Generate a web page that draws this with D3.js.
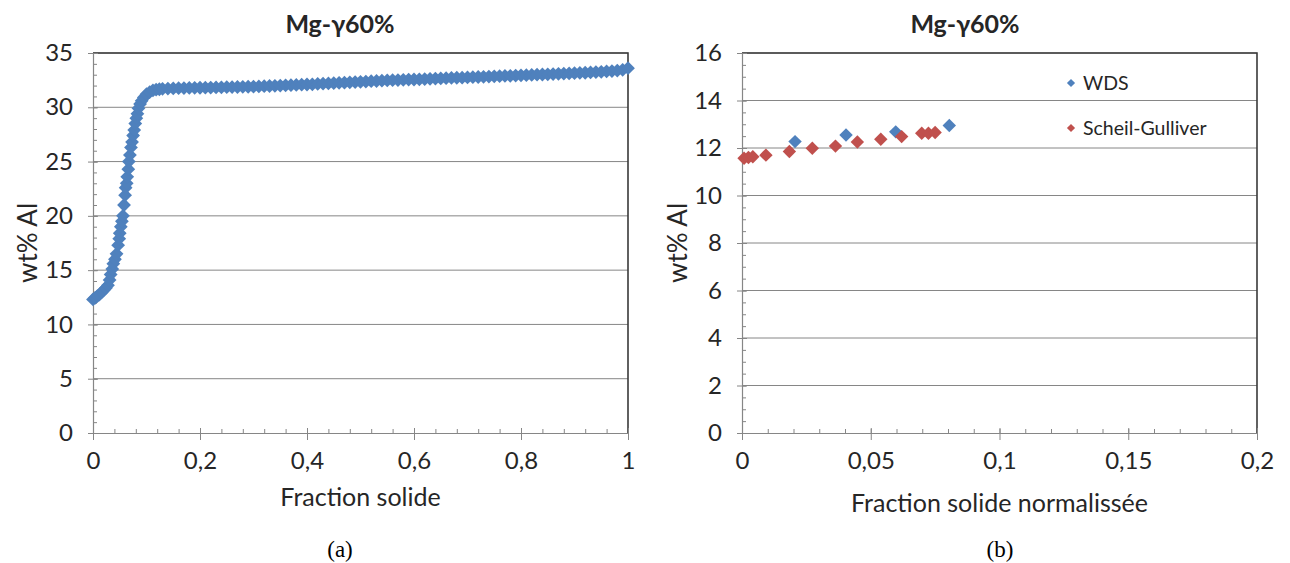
<!DOCTYPE html>
<html><head><meta charset="utf-8">
<script src="https://cdn.jsdelivr.net/npm/d3@7"></script>
<style>body{margin:0;background:#fff}svg{display:block}</style>
</head><body><svg id="c" width="1290" height="563"></svg>
<script>
// ---- Data ----
const fracA = [0,0.004,0.008,0.012,0.016,0.020,0.024,0.028,0.031,0.033,0.036,0.038,0.041,0.044,0.047,0.049,0.050,0.052,0.054,0.056,0.058,0.060,0.061,0.063,0.064,0.066,0.067,0.069,0.071,0.073,0.075,0.077,0.079,0.081,0.083,0.085,0.088,0.091,0.095,0.100,0.106,0.112,0.118,0.124,0.130,
0.14,0.15,0.16,0.17,0.18,0.19,0.20,0.21,0.22,0.23,0.24,0.25,0.26,0.27,0.28,0.29,0.30,0.31,0.32,0.33,0.34,0.35,0.36,0.37,0.38,0.39,0.40,0.41,0.42,0.43,0.44,0.45,0.46,0.47,0.48,0.49,0.50,0.51,0.52,0.53,0.54,0.55,0.56,0.57,0.58,0.59,0.60,0.61,0.62,0.63,0.64,0.65,0.66,0.67,0.68,0.69,0.70,0.71,0.72,0.73,0.74,0.75,0.76,0.77,0.78,0.79,0.80,0.81,0.82,0.83,0.84,0.85,0.86,0.87,0.88,0.89,0.90,0.91,0.92,0.93,0.94,0.95,0.96,0.97,0.98,0.99,1.00];
const alA = [12.3,12.45,12.6,12.75,12.95,13.15,13.35,13.6,14.1,14.6,15.1,15.6,16.0,16.5,17.3,17.9,18.4,19.0,19.5,20.0,21.0,21.9,22.6,23.0,23.6,24.3,25.0,25.6,26.3,26.8,27.4,27.9,28.5,29.0,29.4,29.9,30.3,30.6,30.9,31.2,31.4,31.55,31.62,31.66,31.7,
31.72,31.74,31.76,31.77,31.78,31.79,31.80,31.81,31.82,31.83,31.84,31.85,31.86,31.87,31.88,31.89,31.90,31.92,31.94,31.96,31.98,32.00,32.02,32.04,32.06,32.08,32.10,32.12,32.15,32.17,32.20,32.22,32.25,32.27,32.30,32.32,32.35,32.37,32.40,32.42,32.45,32.47,32.50,32.51,32.53,32.55,32.56,32.58,32.60,32.62,32.64,32.66,32.68,32.70,32.72,32.73,32.75,32.77,32.79,32.81,32.83,32.85,32.87,32.89,32.90,32.92,32.94,32.96,32.98,33.00,33.02,33.04,33.06,33.08,33.10,33.12,33.14,33.16,33.18,33.21,33.24,33.27,33.30,33.34,33.38,33.45,33.60];

const wdsX = [0.0206,0.0404,0.0597,0.0805];
const wdsY = [12.27,12.55,12.68,12.95];
const sgX = [0.0008,0.0025,0.0042,0.0093,0.0184,0.0273,0.0363,0.0448,0.0539,0.0620,0.0698,0.0724,0.0750];
const sgY = [11.57,11.60,11.63,11.70,11.85,11.99,12.08,12.25,12.37,12.48,12.62,12.62,12.65];

const xTicksA = [0,0.2,0.4,0.6,0.8,1];
const yTicksA = [0,5,10,15,20,25,30,35];
const xTicksB = [0,0.05,0.1,0.15,0.2];
const yTicksB = [0,2,4,6,8,10,12,14,16];
const legendNames = ["WDS","Scheil-Gulliver"];
const titleText = "Mg-γ60%";

// ---- Drawing ----
const svg = d3.select("#c");
svg.append("rect").attr("width",1290).attr("height",563).attr("fill","#fff");
const FONT = "Lato, 'Open Sans', sans-serif";
const TXT = "#262626";
const GRID = "#868686";
const BLUE = "#4F81BD", RED = "#C0504D";
const loc = d3.formatLocale({decimal:",",thousands:" ",grouping:[3],currency:["",""]});
const fmt = v => loc.format("~g")(v);

function chart(o){
  const g = svg.append("g");
  const x = d3.scaleLinear().domain(o.xDomain).range([o.x0,o.x1]);
  const y = d3.scaleLinear().domain(o.yDomain).range([o.yb,o.yt]);
  g.append("g").selectAll("line").data(o.yTicks.filter(v=>v>o.yDomain[0])).join("line")
    .attr("x1",o.x0).attr("x2",o.x1).attr("y1",d=>y(d)).attr("y2",d=>y(d))
    .attr("stroke",GRID).attr("stroke-width",1);
  g.append("path").attr("d",`M${o.x0},${o.yt}H${o.x1}V${o.yb}`).attr("fill","none")
    .attr("stroke","#3a3a3a").attr("stroke-width",1.6);
  const nyMin = Math.round((o.yDomain[1]-o.yDomain[0])/o.yMinor);
  const yMin = d3.range(nyMin+1).map(i=>o.yDomain[0]+i*o.yMinor);
  const nxMin = Math.round((o.xDomain[1]-o.xDomain[0])/o.xMinor);
  const xMin = d3.range(nxMin+1).map(i=>o.xDomain[0]+i*o.xMinor);
  g.append("g").attr("transform",`translate(${o.x0},0)`)
    .call(d3.axisRight(y).tickValues(yMin).tickSize(4).tickFormat(""))
    .call(s=>{s.select(".domain").remove();s.selectAll("line").attr("stroke",GRID);});
  g.append("g").attr("transform",`translate(0,${o.yb})`)
    .call(d3.axisTop(x).tickValues(xMin).tickSize(4).tickFormat(""))
    .call(s=>{s.select(".domain").remove();s.selectAll("line").attr("stroke",GRID);});
  const ya = g.append("g").attr("transform",`translate(${o.x0},0)`)
    .call(d3.axisLeft(y).tickValues(o.yTicks).tickSizeInner(5).tickSizeOuter(0).tickPadding(15).tickFormat(fmt));
  ya.selectAll(".tick line").attr("x2",-5).attr("x1",5);
  const xa = g.append("g").attr("transform",`translate(0,${o.yb})`)
    .call(d3.axisBottom(x).tickValues(o.xTicks).tickSizeInner(7).tickSizeOuter(0).tickPadding(12).tickFormat(fmt));
  xa.selectAll(".tick line").attr("y1",-5);
  [ya,xa].forEach(a=>{
    a.select(".domain").attr("stroke",GRID).attr("stroke-width",1.2);
    a.selectAll(".tick line").attr("stroke",GRID);
    a.selectAll("text").attr("font-family",FONT).attr("font-size",24).attr("fill",TXT);
  });
  o.series.forEach(s=>{
    const sym = d3.symbol(d3.symbolSquare, s.size)();
    g.append("g").selectAll("path").data(d3.range(s.xs.length)).join("path")
      .attr("d",sym).attr("fill",s.color)
      .attr("transform",i=>`translate(${x(s.xs[i])},${y(s.ys[i])}) rotate(45)`);
  });
  g.append("text").attr("x",o.titleX).attr("y",33).attr("text-anchor","middle")
    .attr("font-family",FONT).attr("font-weight","bold").attr("font-size",25).attr("fill",TXT).text(titleText);
  g.append("text").attr("x",(o.x0+o.x1)/2).attr("y",o.xTitleY).attr("text-anchor","middle")
    .attr("font-family",FONT).attr("font-size",25).attr("fill",TXT).text(o.xTitle);
  g.append("text").attr("transform",`translate(${o.yTitleX},${(o.yt+o.yb)/2}) rotate(-90)`)
    .attr("text-anchor","middle").attr("font-family",FONT).attr("font-size",26).attr("fill",TXT).text("wt% Al");
  g.append("text").attr("x",o.labelX).attr("y",557).attr("text-anchor","middle")
    .attr("font-family","'Liberation Serif', serif").attr("font-size",23).attr("fill","#000").text(o.label);
  return {x,y,g};
}

chart({x0:93,x1:628,yt:53,yb:433,xDomain:[0,1],yDomain:[0,35],xTicks:xTicksA,yTicks:yTicksA,
  xMinor:0.04,yMinor:1,titleX:340,xTitle:"Fraction solide",xTitleY:506,yTitleX:37,label:"(a)",labelX:340,
  series:[{xs:fracA,ys:alA,color:BLUE,size:95}]});

const b = chart({x0:742,x1:1257,yt:53,yb:433,xDomain:[0,0.2],yDomain:[0,16],xTicks:xTicksB,yTicks:yTicksB,
  xMinor:0.01,yMinor:0.5,titleX:965,xTitle:"Fraction solide normalissée",xTitleY:512,yTitleX:687,label:"(b)",labelX:1000,
  series:[{xs:wdsX,ys:wdsY,color:BLUE,size:90},{xs:sgX,ys:sgY,color:RED,size:90}]});

const lg = b.g.append("g");
[BLUE,RED].forEach((c,i)=>{
  const yy = 83 + i*45;
  lg.append("path").attr("d",d3.symbol(d3.symbolSquare,34)()).attr("fill",c)
    .attr("transform",`translate(1071,${yy}) rotate(45)`);
  lg.append("text").attr("x",1083).attr("y",yy+7).attr("font-family",FONT).attr("font-size",19.5)
    .attr("fill",TXT).text(legendNames[i]);
});
</script></body></html>
